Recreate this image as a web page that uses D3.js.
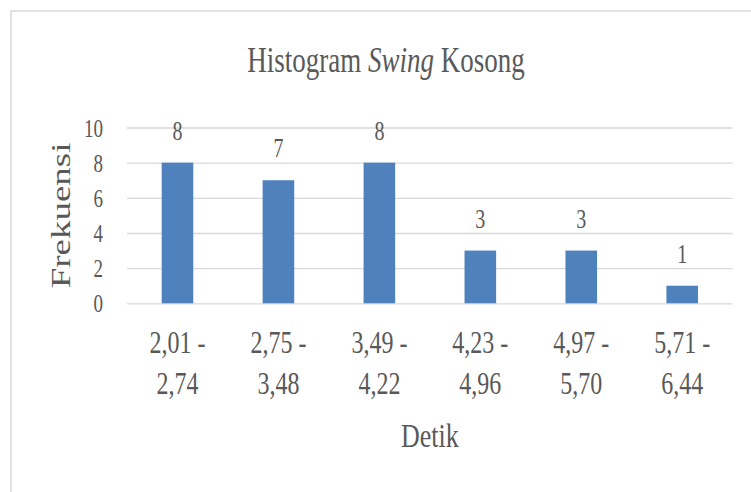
<!DOCTYPE html>
<html>
<head>
<meta charset="utf-8">
<script src="https://cdn.jsdelivr.net/npm/d3@7"></script>
<style>
  html, body { margin: 0; padding: 0; background: #fff; }
  svg text { font-family: "Liberation Serif", "Times New Roman", serif; fill: #595959; }
</style>
</head>
<body>
<svg id="chart" width="751" height="492"></svg>
<script>
// Frequency of "swing kosong" durations by class interval (seconds)
const classLower = ["2,01", "2,75", "3,49", "4,23", "4,97", "5,71"];
const classUpper = ["2,74", "3,48", "4,22", "4,96", "5,70", "6,44"];
const frequency = [8, 7, 8, 3, 3, 1];
const yTickValues = [0, 2, 4, 6, 8, 10];

const categories = classLower.map((lo, i) => lo + " - " + classUpper[i]);

const svg = d3.select("#chart");
const STRETCH = 1.32; // vertical stretch of glyphs

const plot = { left: 127, right: 732.7, top: 127.5, bottom: 303.3 };

const x = d3.scaleBand()
  .domain(categories)
  .range([plot.left, plot.right])
  .paddingInner(0.687)
  .paddingOuter(0.687 / 2);

const y = d3.scaleLinear()
  .domain([0, 10])
  .range([plot.bottom, plot.top]);

// Chart frame (top and left edges)
svg.append("path")
  .attr("d", "M11,492 L11,11 L751,11")
  .attr("fill", "none")
  .attr("stroke", "#d9d9d9")
  .attr("stroke-width", 1.5);

// Text helper with vertically stretched glyphs
function label(g, tx, ty, text, size, anchor, rotate) {
  const t = g.append("text")
    .attr("transform", rotate
      ? `translate(${tx},${ty}) rotate(-90) scale(${STRETCH},1)`
      : `translate(${tx},${ty}) scale(1,${STRETCH})`)
    .attr("text-anchor", anchor)
    .attr("font-size", size)
    .text(text);
  return t;
}

// Gridlines
const grid = svg.append("g")
  .attr("transform", `translate(${plot.left},0)`)
  .call(d3.axisRight(y).tickValues(yTickValues).tickSize(plot.right - plot.left).tickFormat(""));
grid.select(".domain").remove();
grid.selectAll(".tick line").attr("stroke", "#d9d9d9").attr("stroke-width", 1.3);

// Y tick labels
const yAxis = svg.append("g")
  .attr("transform", `translate(${plot.left},0)`)
  .call(d3.axisLeft(y).tickValues(yTickValues).tickSize(0));
yAxis.select(".domain").remove();
yAxis.selectAll(".tick text")
  .attr("x", null).attr("dy", null)
  .attr("font-size", 19)
  .attr("font-family", "Liberation Serif, serif")
  .attr("fill", "#595959")
  .attr("transform", `translate(-24, ${0.34 * 19 * STRETCH}) scale(1,${STRETCH})`);

// Bars
svg.append("g").selectAll("rect")
  .data(frequency)
  .join("rect")
  .attr("x", (d, i) => x(categories[i]))
  .attr("y", d => y(d))
  .attr("width", x.bandwidth())
  .attr("height", d => y(0) - y(d))
  .attr("fill", "#4f81bd");

// Value labels
const vals = svg.append("g");
frequency.forEach((d, i) => {
  label(vals, x(categories[i]) + x.bandwidth() / 2, y(d) - 23, d, 20, "middle");
});

// Category labels (two lines)
const cats = svg.append("g");
categories.forEach((c, i) => {
  const cx = x(c) + x.bandwidth() / 2;
  label(cats, cx, 353, classLower[i] + " -", 24, "middle");
  label(cats, cx, 394, classUpper[i], 24, "middle");
});

// Title
const title = svg.append("text")
  .attr("transform", `translate(386,72) scale(1,${STRETCH})`)
  .attr("text-anchor", "middle")
  .attr("font-size", 27);
title.append("tspan").text("Histogram ");
title.append("tspan").attr("font-style", "italic").text("Swing");
title.append("tspan").text(" Kosong");

// Axis titles
label(svg, (plot.left + plot.right) / 2, 447, "Detik", 26, "middle");
label(svg, 70, (plot.top + plot.bottom) / 2, "Frekuensi", 28, "middle", true);
</script>
</body>
</html>
